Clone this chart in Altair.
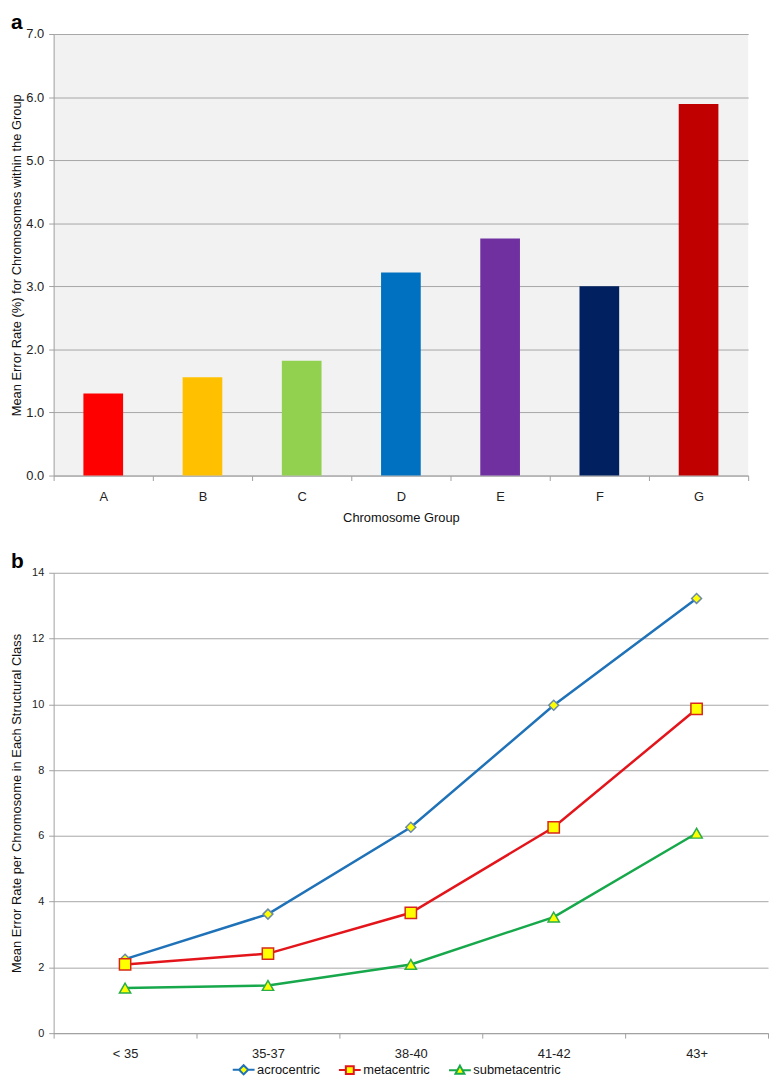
import altair as alt
import pandas as pd

# ---------- data ----------
groups = ["A", "B", "C", "D", "E", "F", "G"]
group_rates = [1.30, 1.56, 1.82, 3.22, 3.76, 3.00, 5.89]
group_colors = ["#ff0000", "#ffc000", "#92d050", "#0070c0", "#7030a0", "#002060", "#c00000"]

age_classes = ["< 35", "35-37", "38-40", "41-42", "43+"]
acrocentric = [2.25, 3.62, 6.26, 9.97, 13.22]
metacentric = [2.09, 2.42, 3.66, 6.26, 9.86]
submetacentric = [1.37, 1.45, 2.09, 3.53, 6.08]

series_names = ["acrocentric", "metacentric", "submetacentric"]
series_colors = ["#1f72b8", "#e3151b", "#17a84b"]
marker_strokes = ["#6a8aa6", "#d8281b", "#2aae47"]
marker_shapes = ["diamond", "square", "triangle-up"]
marker_sizes = [100, 130, 130]
# legend glyphs: short line with the marker in the middle
legend_paths = [
    "M-2.2,0H-0.92M0.92,0H2.2M0,-0.92L0.92,0L0,0.92L-0.92,0Z",
    "M-2.2,0H-0.8M0.8,0H2.2M-0.8,-0.8H0.8V0.8H-0.8Z",
    "M-2.2,0H-0.55M0.55,0H2.2M0,-0.95L0.9,0.7L-0.9,0.7Z",
]

FONT = "Liberation Sans"

# ---------- panel a ----------
df_a = pd.DataFrame({"group": groups, "rate": group_rates})

panel_a = alt.Chart(df_a, title=alt.TitleParams(
    text="a", anchor="start", frame="bounds", fontSize=21, fontWeight="bold",
    font=FONT, color="#000000", offset=-5)
).mark_bar(size=40).encode(
    x=alt.X("group:N", sort=groups,
            scale=alt.Scale(type="band", paddingInner=0, paddingOuter=0),
            axis=alt.Axis(title="Chromosome Group", labelAngle=0, tickBand="extent",
                          labelFontSize=13, titleFontSize=13, titleFontWeight="normal",
                          labelPadding=10, titlePadding=8, tickSize=5, grid=False)),
    y=alt.Y("rate:Q", scale=alt.Scale(domain=[0, 7], nice=False),
            axis=alt.Axis(title="Mean Error Rate (%) for Chromosomes within the Group",
                          values=[0, 1, 2, 3, 4, 5, 6, 7], format=".1f",
                          labelFontSize=13, titleFontSize=13, titleFontWeight="normal",
                          labelPadding=5, tickSize=5, minExtent=29, maxExtent=29,
                          titlePadding=1, grid=True)),
    color=alt.Color("group:N", scale=alt.Scale(domain=groups, range=group_colors), legend=None),
).properties(width=700, height=445)

# ---------- panel b ----------
rows = []
for name, vals in zip(series_names, [acrocentric, metacentric, submetacentric]):
    for cls, v in zip(age_classes, vals):
        rows.append({"age": cls, "rate": v, "series": name})
df_b = pd.DataFrame(rows)

xb = alt.X("age:N", sort=age_classes, bandPosition=0.5,
           scale=alt.Scale(type="band", paddingInner=0, paddingOuter=0),
           axis=alt.Axis(title=None, labelAngle=0, tickBand="extent", labelFontSize=13,
                         labelPadding=10, tickSize=5, grid=False))
yb = alt.Y("rate:Q", scale=alt.Scale(domain=[0, 14], nice=False),
           axis=alt.Axis(title="Mean Error Rate per Chromosome in Each Structural Class",
                         values=[0, 2, 4, 6, 8, 10, 12, 14],
                         labelFontSize=11, titleFontSize=13, titleFontWeight="normal",
                         labelPadding=5, tickSize=5, minExtent=29, maxExtent=29,
                         titlePadding=1, grid=True))

base_b = alt.Chart(df_b)

line_layers = []
marker_layers = []
for name, col, shp, stc, sz in zip(series_names, series_colors, marker_shapes,
                                   marker_strokes, marker_sizes):
    sub = base_b.transform_filter(alt.datum.series == name)
    line_layers.append(sub.mark_line(strokeWidth=2.5, color=col).encode(x=xb, y=yb))
    marker_layers.append(
        sub.mark_point(shape=shp, size=sz, filled=True, fill="#ffff00", stroke=stc,
                       strokeWidth=1.5, opacity=1).encode(x=xb, y=yb)
    )

legend_kw = dict(title=None, orient="none", legendX=185, legendY=1037,
                 direction="horizontal", labelFontSize=13, labelFont=FONT,
                 labelColor="#111111", symbolSize=100, symbolStrokeWidth=2,
                 symbolFillColor="#ffff00", columnPadding=14, labelOffset=7)

legend_layer = base_b.transform_filter("false").mark_point(
    filled=True, fill="#ffff00", strokeWidth=2, opacity=1
).encode(
    shape=alt.Shape("series:N", scale=alt.Scale(domain=series_names, range=legend_paths),
                    legend=alt.Legend(**legend_kw)),
    stroke=alt.Stroke("series:N", scale=alt.Scale(domain=series_names, range=series_colors),
                      legend=alt.Legend(**legend_kw)),
)

panel_b = alt.layer(*line_layers, *marker_layers, legend_layer).properties(
    width=720, height=464,
    title=alt.TitleParams(text="b", anchor="start", frame="bounds", fontSize=21,
                          fontWeight="bold", font=FONT, color="#000000", offset=-5),
)

chart = alt.vconcat(panel_a, panel_b, spacing=27).properties(
    padding={"left": 3, "top": 0, "right": 0, "bottom": 0}
).configure_view(
    fill="#f2f2f2", strokeWidth=0
).configure_axis(
    labelFont=FONT, titleFont=FONT, labelColor="#222222", titleColor="#111111",
    domainColor="#a0a0a0", tickColor="#a0a0a0", gridColor="#a6a6a6",
)

chart.save("out.html", embed_options={"renderer": "svg", "actions": False})
